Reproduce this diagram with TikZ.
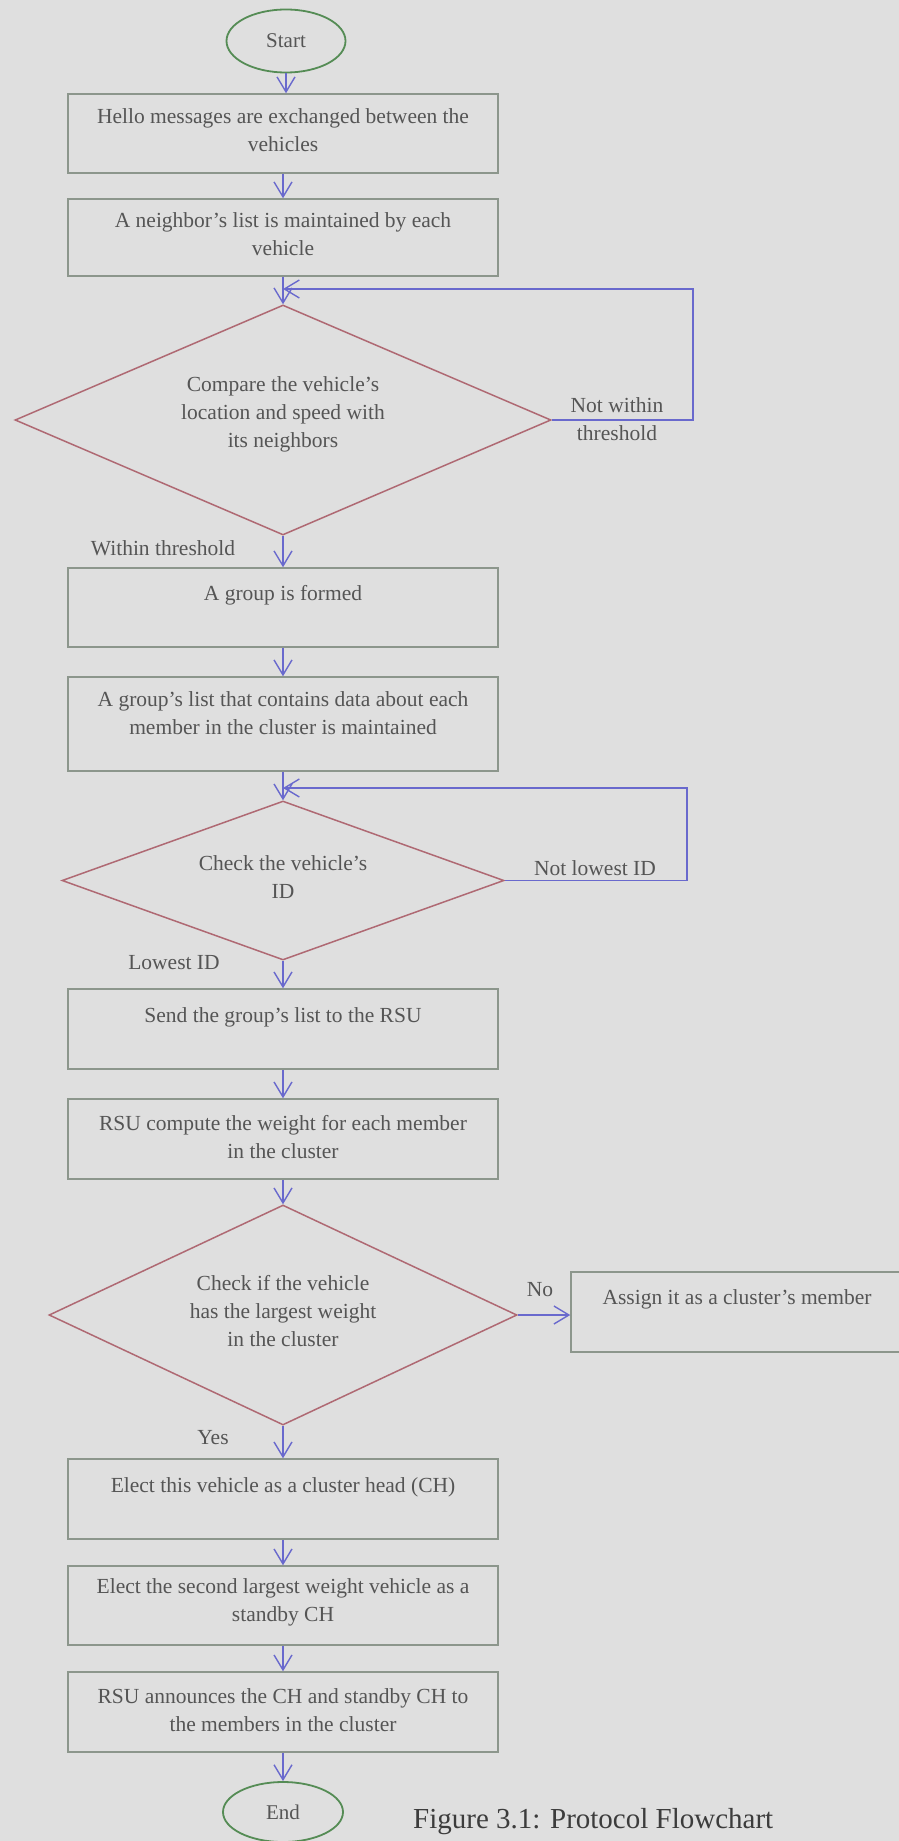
\documentclass[tikz,border=0pt]{standalone}
\usepackage{fontspec}
\setmainfont{Liberation Serif}
\usetikzlibrary{arrows.meta,shapes.geometric}
\definecolor{bgc}{RGB}{223,223,223}
\definecolor{boxc}{RGB}{140,150,140}
\definecolor{diac}{RGB}{175,105,115}
\definecolor{arrc}{RGB}{105,105,205}
\definecolor{ellc}{RGB}{85,140,85}
\definecolor{txtc}{RGB}{85,85,85}
\definecolor{capc}{RGB}{60,60,60}
\begin{document}
\begin{tikzpicture}[x=1pt,y=-1pt,
  txt/.style={font=\fontsize{21.5}{28}\selectfont, align=center, inner sep=0pt, text=txtc},
  box/.style={draw=boxc, line width=1.5pt, minimum width=430pt, inner sep=0pt},
  dia/.style={draw=diac, line width=1.5pt, shape=diamond, inner sep=0pt},
  term/.style={draw=ellc, line width=1.8pt, shape=ellipse, inner sep=0pt,
    text=txtc, font=\fontsize{21}{26}\selectfont},
  arr/.style={draw=arrc, line width=1.4pt, -{Straight Barb[length=15pt,width=18pt]}},
]
\fill[bgc] (0,0) rectangle (899,1841);
\useasboundingbox (0,0) rectangle (899,1841);

% terminals
\node[term, minimum width=119pt, minimum height=63pt] (start) at (286,41) {Start};
\node[term, minimum width=120pt, minimum height=60pt] (end) at (283,1812) {End};

% process boxes
\node[box, minimum height=79pt] (b1) at (283,133.5) {};
\node[box, minimum height=77pt] (b2) at (283,237.5) {};
\node[box, minimum height=79pt] (b3) at (283,607.5) {};
\node[box, minimum height=94pt] (b4) at (283,724) {};
\node[box, minimum height=80pt] (b5) at (283,1029) {};
\node[box, minimum height=80pt] (b6) at (283,1139) {};
\node[box, minimum height=80pt] (b7) at (283,1499) {};
\node[box, minimum height=79pt] (b8) at (283,1605.5) {};
\node[box, minimum height=80pt] (b9) at (283,1712) {};
\node[box, minimum width=334pt, minimum height=80pt] (a1) at (738,1312) {};

% decisions
\node[dia, minimum width=536pt, minimum height=230pt] (d1) at (283,420) {};
\node[dia, minimum width=442pt, minimum height=159pt] (d2) at (283,880.5) {};
\node[dia, minimum width=468pt, minimum height=220pt] (d3) at (283,1315) {};

% texts
\node[txt] (t1) at (283,130.5) {Hello messages are exchanged between the\\vehicles};
\node[txt] (t2) at (283,234) {A neighbor's list is maintained by each\\vehicle};
\node[txt] (td1) at (283,414.5) {Compare the vehicle's\\location and speed with\\its neighbors};
\node[txt] (t3) at (283,595) {A group is formed};
\node[txt] (t4) at (283,713) {A group's list that contains data about each\\member in the cluster is maintained};
\node[txt] (td2) at (283,877.5) {Check the vehicle's\\ID};
\node[txt] (t5) at (283,1017) {Send the group's list to the RSU};
\node[txt] (t6) at (283,1137.5) {RSU compute the weight for each member\\in the cluster};
\node[txt] (td3) at (283,1311) {Check if the vehicle\\has the largest weight\\in the cluster};
\node[txt] (t7) at (283,1487) {Elect this vehicle as a cluster head (CH)};
\node[txt] (t8) at (283,1602.5) {Elect the second largest weight vehicle as a\\standby CH};
\node[txt] (t9) at (283,1710.5) {RSU announces the CH and standby CH to\\the members in the cluster};
\node[txt] (ta) at (737,1299) {Assign it as a cluster's member};

% branch labels
\node[txt] (l1) at (617,419) {Not within\\threshold};
\node[txt] (l2) at (595,868) {Not lowest ID};
\node[txt] (l3) at (163,548) {Within threshold};
\node[txt] (l4) at (174,963) {Lowest ID};
\node[txt] (l5) at (213,1438) {Yes};
\node[txt] (l6) at (540,1290) {No};

% loop corners
\coordinate (r1) at (693,289);
\coordinate (m1) at (283,289);
\coordinate (r2) at (687,788);
\coordinate (m2) at (283,788);

% connectors
\draw[arr] (start) -- (start |- b1.north);
\draw[arr] (b1) -- (b2);
\draw[arr] (b2) -- (d1);
\draw[arr] (d1.east) -| (r1) -- (m1);
\draw[arr] (d1) -- (b3);
\draw[arr] (b3) -- (b4);
\draw[arr] (b4) -- (d2);
\draw[arr] (d2.east) -| (r2) -- (m2);
\draw[arr] (d2) -- (b5);
\draw[arr] (b5) -- (b6);
\draw[arr] (b6) -- (d3);
\draw[arr] (d3.east) -- (d3.east -| a1.west);
\draw[arr] (d3) -- (b7);
\draw[arr] (b7) -- (b8);
\draw[arr] (b8) -- (b9);
\draw[arr] (b9) -- (end);

% caption
\node[font=\fontsize{29}{34}\selectfont, text=capc, anchor=base west, inner sep=0pt]
  (cap) at (413,1828) {Figure 3.1: Protocol Flowchart};
\end{tikzpicture}
\end{document}
